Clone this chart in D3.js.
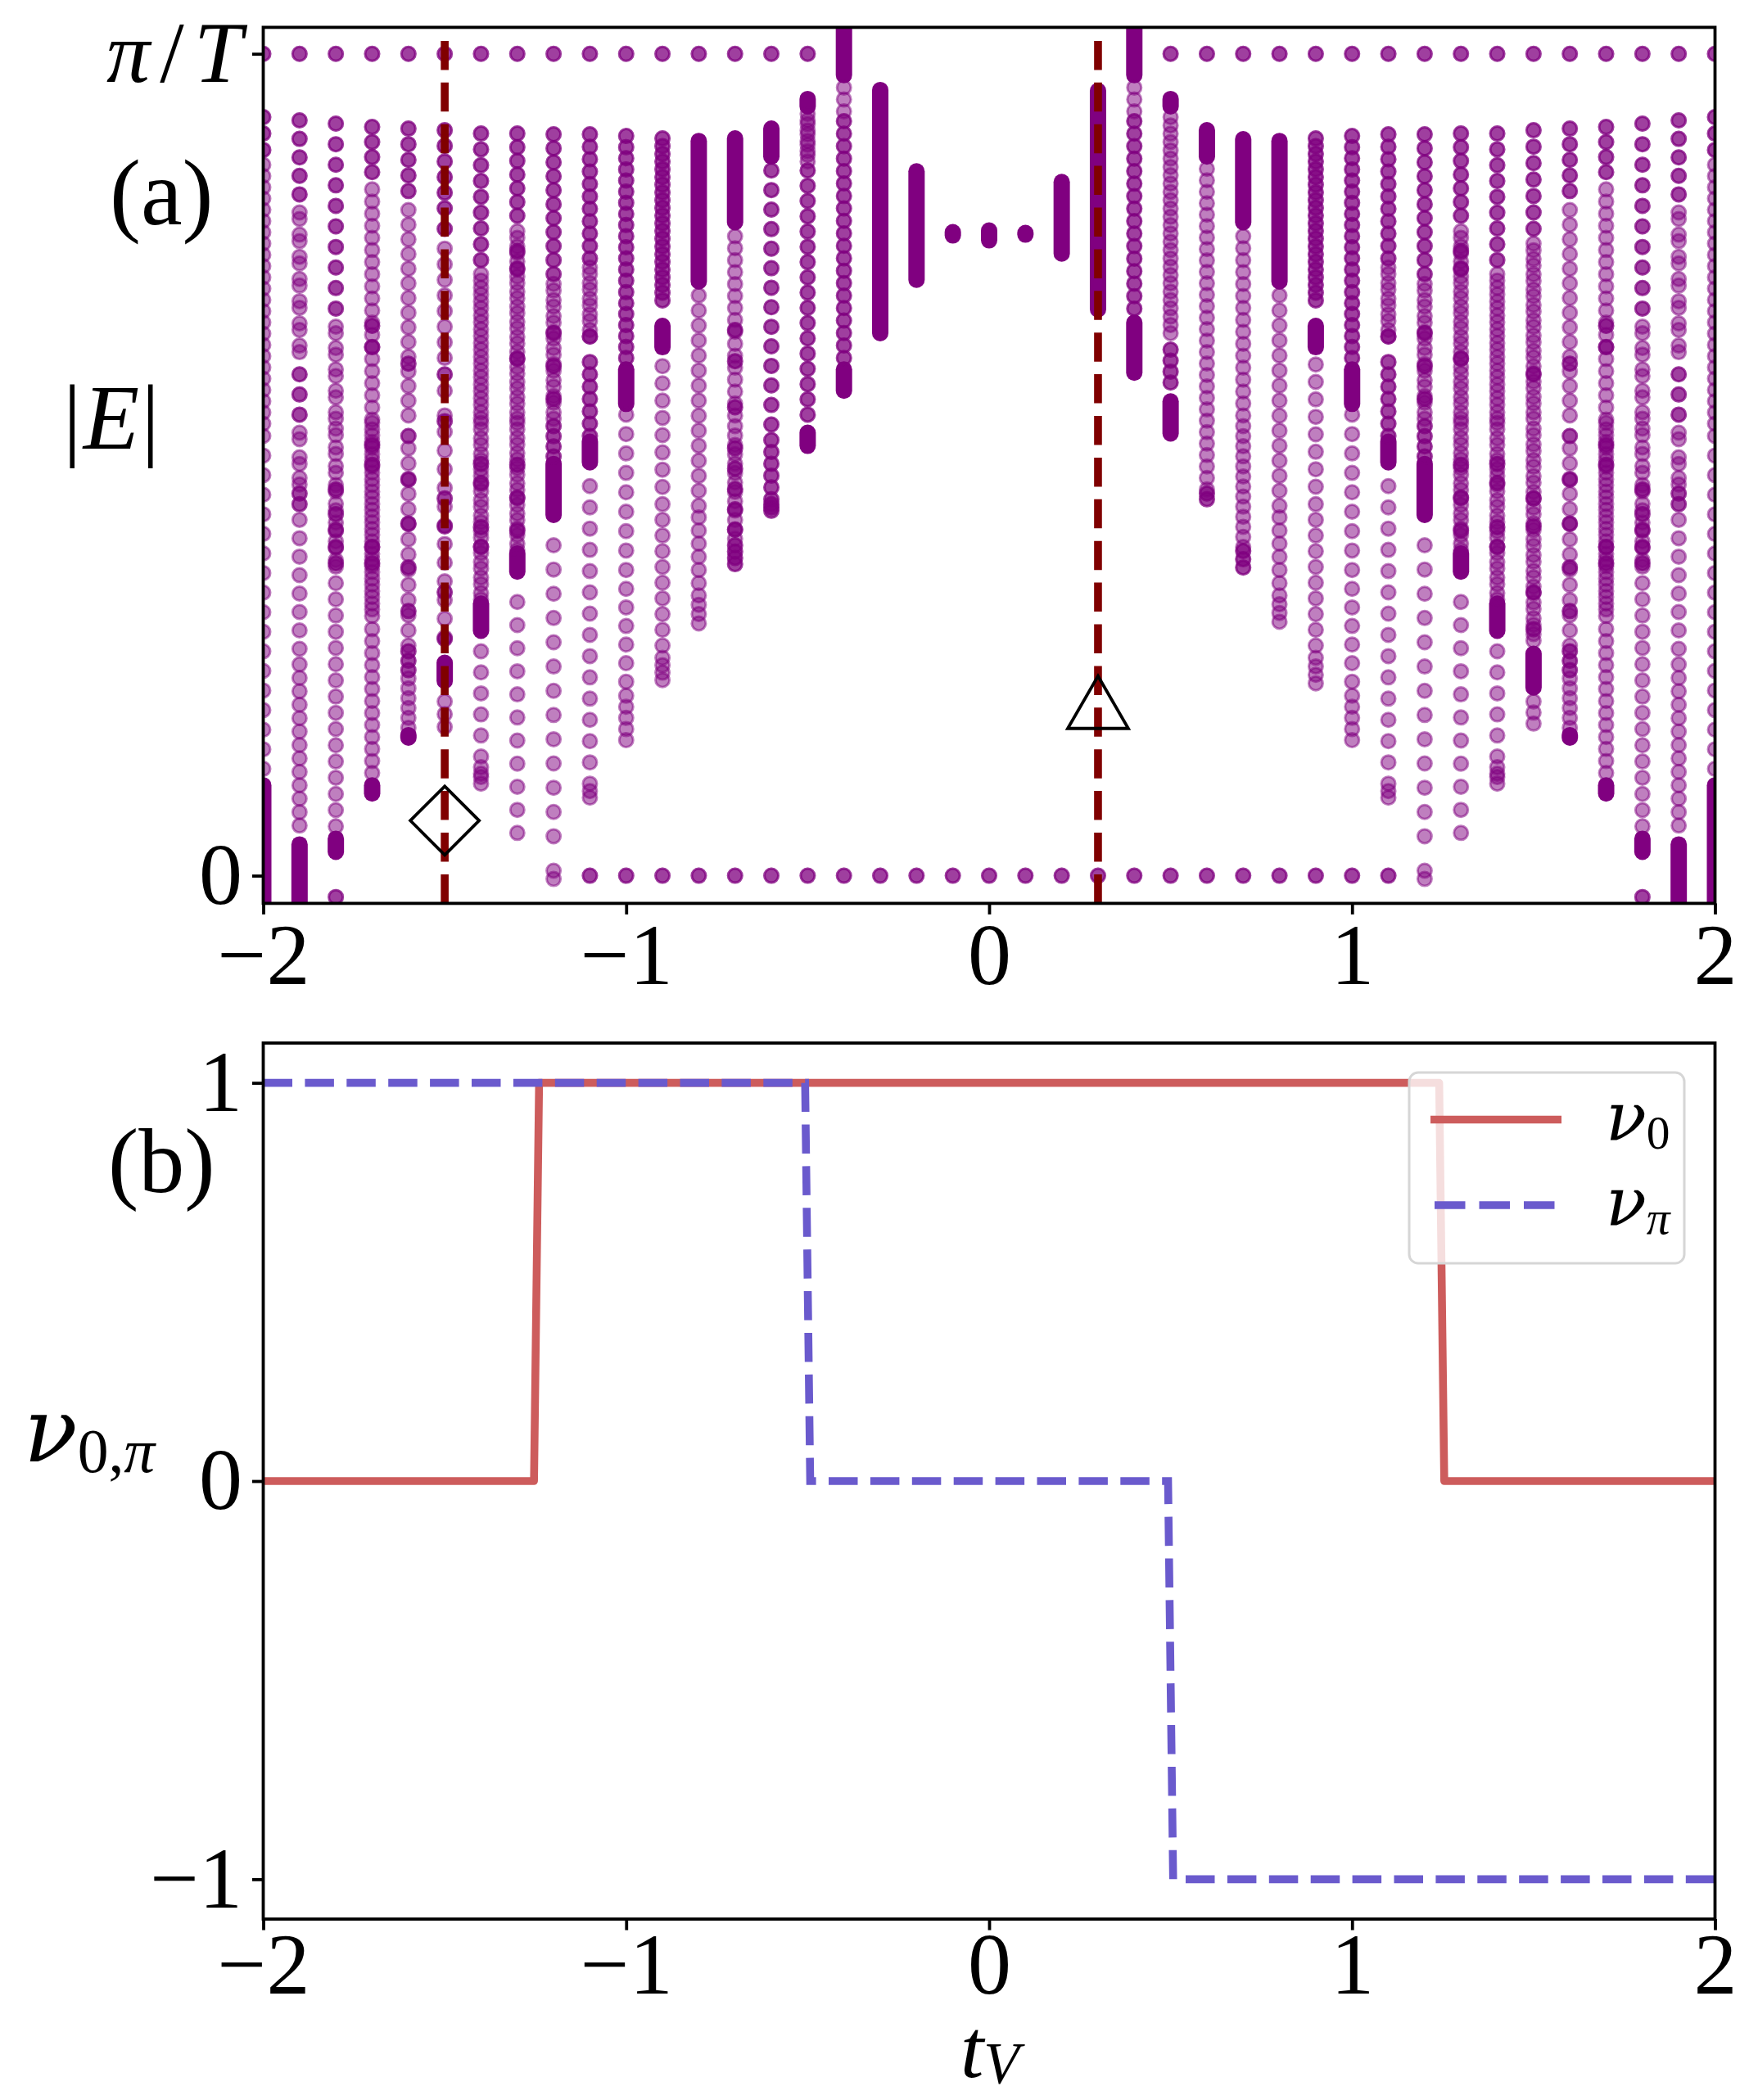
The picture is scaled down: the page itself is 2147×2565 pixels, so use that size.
<!DOCTYPE html>
<html>
<head>
<meta charset="utf-8">
<script src="https://cdn.jsdelivr.net/npm/d3@7"></script>
<style>
  body { margin: 0; background: #fff; }
  text { font-family: "Liberation Serif", "DejaVu Serif", serif; }
  .gr { font-family: "DejaVu Serif", serif; }
</style>
</head>
<body>
<script>
// ---- data ----
// hopping t_V of every spectrum column
var tV = [-2.0,-1.9,-1.8,-1.7,-1.6,-1.5,-1.4,-1.3,-1.2,-1.1,-1.0,-0.9,-0.8,-0.7,-0.6,-0.5,-0.4,-0.3,-0.2,-0.1,
           0.0, 0.1, 0.2, 0.3, 0.4, 0.5, 0.6, 0.7, 0.8, 0.9, 1.0, 1.1, 1.2, 1.3, 1.4, 1.5, 1.6, 1.7, 1.8, 1.9, 2.0];

// |E| in units of pi/T, one list of runs per column:
// [from, to, count, kind]  kind 0 = solid band, 1 = single level, 2 = double level, 3 = split pair
var spectrum = [
  [[0.923,0.883,3,2],[0.865,0.55,24,1],[0.535,0.13,18,1],[0.11,-0.07,0,0]],
  [[0.919,0.829,5,2],[0.803,0.641,7,3],[0.610,0.561,3,2],[0.535,0.505,2,3],[0.480,0.480,1,3],[0.465,0.452,2,2],[0.433,0.276,8,1],[0.257,0.061,13,1],[0.038,-0.07,0,0]],
  [[0.915,0.690,10,2],[0.664,0.56,5,3],[0.54,0.38,8,3],[0.47,0.44,2,2],[0.42,0.38,3,2],[0.356,0.06,16,1],[0.045,0.029,0,0],[-0.026,-0.026,1,2]],
  [[0.911,0.856,4,2],[0.835,0.555,20,1],[0.669,0.643,2,2],[0.547,0.32,16,3],[0.524,0.50,2,2],[0.40,0.38,2,2],[0.30,0.125,13,1],[0.110,0.100,0,0]],
  [[0.909,0.833,5,2],[0.81,0.56,15,1],[0.623,0.623,1,2],[0.535,0.322,5,2],[0.52,0.28,14,1],[0.273,0.250,3,2],[0.24,0.18,6,1],[0.171,0.168,0,0]],
  [[0.907,0.812,6,2],[0.787,0.787,1,2],[0.763,0.63,8,1],[0.610,0.610,1,2],[0.59,0.56,2,1],[0.553,0.553,1,2],[0.54,0.29,12,1],[0.459,0.425,2,2],[0.345,0.288,2,2],[0.259,0.237,0,0],[0.212,0.181,3,1]],
  [[0.903,0.749,9,2],[0.728,0.56,11,3],[0.547,0.34,12,3],[0.501,0.478,2,2],[0.424,0.40,2,2],[0.331,0.298,0,0],[0.273,0.145,6,1],[0.128,0.116,2,3]],
  [[0.903,0.803,7,2],[0.78,0.56,13,3],[0.76,0.738,2,2],[0.629,0.629,1,2],[0.547,0.40,9,3],[0.50,0.42,3,2],[0.392,0.370,0,0],[0.333,0.052,11,1]],
  [[0.902,0.732,11,2],[0.716,0.56,9,3],[0.66,0.58,3,2],[0.547,0.51,4,2],[0.501,0.439,0,0],[0.402,0.048,13,1]],
  [[0.902,0.751,11,2],[0.736,0.66,5,3],[0.656,0.656,1,2],[0.625,0.535,7,2],[0.528,0.503,0,0],[0.474,0.112,15,1],[0.099,0.099,1,3]],
  [[0.900,0.724,14,2],[0.71,0.63,7,2],[0.616,0.574,0,0],[0.561,0.372,9,1],[0.349,0.236,6,1],[0.219,0.165,5,1]],
  [[0.897,0.70,22,2],[0.669,0.643,0,0],[0.620,0.452,9,1],[0.433,0.280,9,1],[0.265,0.238,4,1]],
  [[0.894,0.723,0,0],[0.706,0.45,15,1],[0.436,0.356,6,1],[0.341,0.307,4,1]],
  [[0.897,0.795,0,0],[0.778,0.56,16,1],[0.664,0.626,2,2],[0.57,0.57,1,2],[0.547,0.41,13,1],[0.520,0.421,5,2],[0.402,0.379,4,2]],
  [[0.909,0.875,0,0],[0.858,0.549,14,2],[0.530,0.458,6,2],[0.452,0.444,3,2]],
  [[0.945,0.936,0,0],[0.923,0.873,5,3],[0.858,0.561,17,2],[0.539,0.523,0,0]],
  [[1.08,0.974,0,0],[0.959,0.930,3,1],[0.918,0.63,20,2],[0.616,0.590,0,0]],
  [[0.956,0.660,0,0]],
  [[0.857,0.725,0,0]],
  [[0.783,0.779,0,0]],
  [[0.785,0.773,0,0]],
  [[0.782,0.780,0,0]],
  [[0.844,0.757,0,0]],
  [[0.955,0.689,0,0]],
  [[1.08,0.974,0,0],[0.959,0.930,3,1],[0.918,0.69,16,2],[0.673,0.612,0,0]],
  [[0.945,0.936,0,0],[0.923,0.66,27,1],[0.64,0.60,4,2],[0.577,0.538,0,0]],
  [[0.907,0.875,0,0],[0.86,0.47,29,1],[0.465,0.458,2,2]],
  [[0.896,0.795,0,0],[0.778,0.56,16,1],[0.547,0.40,13,1],[0.395,0.375,3,2]],
  [[0.894,0.723,0,0],[0.706,0.45,15,1],[0.436,0.356,6,1],[0.341,0.309,4,1]],
  [[0.897,0.70,22,2],[0.669,0.643,0,0],[0.622,0.452,9,1],[0.433,0.280,9,1],[0.265,0.234,4,1]],
  [[0.900,0.724,14,2],[0.71,0.63,7,2],[0.616,0.574,0,0],[0.561,0.372,9,1],[0.349,0.236,6,1],[0.219,0.165,5,1]],
  [[0.902,0.751,11,2],[0.736,0.66,5,3],[0.656,0.656,1,2],[0.625,0.535,7,2],[0.528,0.503,0,0],[0.474,0.112,15,1],[0.099,0.099,1,3]],
  [[0.902,0.732,11,2],[0.716,0.56,9,3],[0.66,0.58,3,2],[0.547,0.51,4,2],[0.501,0.439,0,0],[0.402,0.048,13,1]],
  [[0.903,0.803,7,2],[0.78,0.56,13,3],[0.76,0.738,2,2],[0.629,0.629,1,2],[0.547,0.40,9,3],[0.50,0.42,3,2],[0.392,0.370,0,0],[0.333,0.052,11,1]],
  [[0.903,0.749,9,2],[0.728,0.56,11,3],[0.547,0.34,12,3],[0.501,0.478,2,2],[0.424,0.40,2,2],[0.331,0.298,0,0],[0.273,0.145,6,1],[0.128,0.116,2,3]],
  [[0.907,0.787,7,2],[0.765,0.56,12,3],[0.610,0.610,1,2],[0.54,0.29,14,3],[0.459,0.425,2,2],[0.345,0.30,2,2],[0.270,0.229,0,0],[0.212,0.185,3,1]],
  [[0.909,0.833,5,2],[0.81,0.56,15,1],[0.623,0.623,1,2],[0.535,0.322,5,2],[0.52,0.28,14,1],[0.273,0.250,3,2],[0.24,0.18,6,1],[0.171,0.168,0,0]],
  [[0.911,0.856,4,2],[0.835,0.555,20,1],[0.669,0.643,2,2],[0.547,0.32,16,3],[0.524,0.50,2,2],[0.40,0.38,2,2],[0.30,0.125,13,1],[0.110,0.100,0,0]],
  [[0.915,0.690,10,2],[0.664,0.56,5,3],[0.54,0.38,8,3],[0.47,0.44,2,2],[0.42,0.38,3,2],[0.356,0.06,16,1],[0.045,0.029,0,0],[-0.026,-0.026,1,2]],
  [[0.919,0.829,5,2],[0.803,0.641,7,3],[0.610,0.561,3,2],[0.535,0.505,2,3],[0.480,0.480,1,3],[0.465,0.452,2,2],[0.433,0.276,8,1],[0.257,0.061,13,1],[0.038,-0.07,0,0]],
  [[0.923,0.883,3,2],[0.865,0.55,24,1],[0.535,0.13,18,1],[0.11,-0.07,0,0]]
];

// edge modes: pi/T modes and zero modes (double levels)
var piModeT   = [-2.0,-1.9,-1.8,-1.7,-1.6,-1.5,-1.4,-1.3,-1.2,-1.1,-1.0,-0.9,-0.8,-0.7,-0.6,-0.5,
                  0.5, 0.6, 0.7, 0.8, 0.9, 1.0, 1.1, 1.2, 1.3, 1.4, 1.5, 1.6, 1.7, 1.8, 1.9, 2.0];
var zeroModeT = [-1.1,-1.0,-0.9,-0.8,-0.7,-0.6,-0.5,-0.4,-0.3,-0.2,-0.1,0.0,0.1,0.2,0.3,0.4,0.5,0.6,0.7,0.8,0.9,1.0,1.1];
var zeroSplitT = [-1.2, 1.2];
var zeroSplitE = [0.006, -0.004];

var markedT = [-1.5, 0.3];
var diamondPt = [-1.5, 0.067];
var trianglePt = [0.3, 0.211];

// winding numbers, panel (b)
var nu0  = [[-2,0],[-1.254,0],[-1.240,1],[1.240,1],[1.254,0],[2,0]];
var nuPi = [[-2,1],[-0.507,1],[-0.493,0],[0.493,0],[0.507,-1],[2,-1]];

var xTicks = [-2,-1,0,1,2];
var eTicks = [0,1];
var nuTicks = [-1,0,1];

// ---- layout ----
var W = 2147, H = 2565;
var left = 321.5, right = 2094.5;
var topA = 33.4, botA = 1103.4;
var topB = 1274, botB = 2344;
var tickLen = 13.5, lw = 3.8, fs = 106;
var purple = "#800080";

var svg = d3.select("body").append("svg")
  .attr("width", W).attr("height", H)
  .style("background", "#fff");

var x = d3.scaleLinear().domain([-2, 2]).range([left, right]);
var yE = d3.scaleLinear().domain([-0.0337, 1.0322]).range([botA, topA]);
var yN = d3.scaleLinear().domain([-1.1, 1.1]).range([botB, topB]);

svg.append("clipPath").attr("id", "clipA")
  .append("rect").attr("x", left).attr("y", topA).attr("width", right - left).attr("height", botA - topA);
svg.append("clipPath").attr("id", "clipB")
  .append("rect").attr("x", left).attr("y", topB).attr("width", right - left).attr("height", botB - topB);

// ---- panel (a) ----
var points = [], bands = [];
spectrum.forEach(function(runs, i) {
  runs.forEach(function(r) {
    if (r[3] === 0) { bands.push({t: tV[i], a: r[0], b: r[1]}); return; }
    for (var j = 0; j < r[2]; j++) {
      var v = r[2] === 1 ? r[0] : r[0] + (r[1] - r[0]) * j / (r[2] - 1);
      if (r[3] === 1) points.push({t: tV[i], e: v});
      else if (r[3] === 2) { points.push({t: tV[i], e: v}); points.push({t: tV[i], e: v}); }
      else { points.push({t: tV[i], e: v + 0.004}); points.push({t: tV[i], e: v - 0.004}); }
    }
  });
});
piModeT.forEach(function(t) { points.push({t: t, e: 1}); points.push({t: t, e: 1}); });
zeroModeT.forEach(function(t) { points.push({t: t, e: 0}); points.push({t: t, e: 0}); });
zeroSplitT.forEach(function(t) { zeroSplitE.forEach(function(e) { points.push({t: t, e: e}); }); });

var gA = svg.append("g").attr("clip-path", "url(#clipA)");

gA.selectAll("line.band").data(bands).join("line")
  .attr("class", "band")
  .attr("x1", function(d) { return x(d.t); }).attr("x2", function(d) { return x(d.t); })
  .attr("y1", function(d) { return yE(d.a); }).attr("y2", function(d) { return yE(d.b); })
  .attr("stroke", purple).attr("stroke-width", 20).attr("stroke-linecap", "round");

gA.selectAll("circle").data(points).join("circle")
  .attr("cx", function(d) { return x(d.t); })
  .attr("cy", function(d) { return yE(d.e); })
  .attr("r", 8.5)
  .attr("fill", purple).attr("fill-opacity", 0.5)
  .attr("stroke", purple).attr("stroke-opacity", 0.5).attr("stroke-width", 3);

gA.selectAll("line.mark").data(markedT).join("line")
  .attr("class", "mark")
  .attr("x1", function(d) { return x(d); }).attr("x2", function(d) { return x(d); })
  .attr("y1", botA).attr("y2", topA)
  .attr("stroke", "#800000").attr("stroke-width", 9.6)
  .attr("stroke-dasharray", "35.5,15.4");

svg.append("path")
  .attr("transform", "translate(" + x(diamondPt[0]) + "," + yE(diamondPt[1]) + ")")
  .attr("d", "M0,-42L42,0L0,42L-42,0Z")
  .attr("fill", "none").attr("stroke", "#000").attr("stroke-width", 3.8);

svg.append("path")
  .attr("transform", "translate(" + x(trianglePt[0]) + "," + yE(trianglePt[1]) + ")")
  .attr("d", "M0,-32L37,32L-37,32Z")
  .attr("fill", "none").attr("stroke", "#000").attr("stroke-width", 3.8).attr("stroke-linejoin", "miter");

// ---- panel (b) ----
var gB = svg.append("g").attr("clip-path", "url(#clipB)");
var line = d3.line().x(function(d) { return x(d[0]); }).y(function(d) { return yN(d[1]); });

gB.append("path").datum(nu0).attr("d", line)
  .attr("fill", "none").attr("stroke", "#cd5c5c").attr("stroke-width", 9.6)
  .attr("stroke-linejoin", "round").attr("stroke-linecap", "square");
gB.append("path").datum(nuPi).attr("d", line)
  .attr("fill", "none").attr("stroke", "#6a5acd").attr("stroke-width", 9.6)
  .attr("stroke-dasharray", "35.5,15.4");

// legend
var lg = svg.append("g");
lg.append("rect").attr("x", 1721).attr("y", 1310).attr("width", 336).attr("height", 233).attr("rx", 11)
  .attr("fill", "#fff").attr("fill-opacity", 0.8).attr("stroke", "#d6d6d6").attr("stroke-width", 3);
lg.append("line").attr("x1", 1747).attr("x2", 1907).attr("y1", 1367.5).attr("y2", 1367.5)
  .attr("stroke", "#cd5c5c").attr("stroke-width", 9.6);
lg.append("line").attr("x1", 1752).attr("x2", 1907).attr("y1", 1472).attr("y2", 1472)
  .attr("stroke", "#6a5acd").attr("stroke-width", 9.6).attr("stroke-dasharray", "37.5,17");

function nuLabel(sel, sub, subItalic) {
  sel.append("tspan").attr("class", "gr").attr("font-style", "italic").text("ν");
  sel.append("tspan").attr("font-size", "0.7em").attr("dy", "0.17em")
    .attr("font-style", subItalic ? "italic" : "normal").text(sub);
}
nuLabel(lg.append("text").attr("x", 1961).attr("y", 1393).attr("font-size", 82), "0", false);
nuLabel(lg.append("text").attr("x", 1961).attr("y", 1497).attr("font-size", 82), "π", true);

// ---- axes ----
function styleAxis(g) {
  g.select(".domain").remove();
  g.selectAll(".tick line").attr("stroke", "#000").attr("stroke-width", lw);
  g.selectAll(".tick text").attr("font-size", fs).attr("fill", "#000")
    .style("font-family", '"Liberation Serif", serif');
}

[[botA, 10], [botB, 2]].forEach(function(p) {
  svg.append("g").attr("transform", "translate(0," + p[0] + ")")
    .call(d3.axisBottom(x).tickValues(xTicks).tickSize(tickLen).tickPadding(p[1]).tickFormat(d3.format("d")))
    .call(styleAxis);
});

var axE = svg.append("g").attr("transform", "translate(" + left + ",0)")
  .call(d3.axisLeft(yE).tickValues(eTicks).tickSize(tickLen).tickPadding(12).tickFormat(d3.format("d")))
  .call(styleAxis);
axE.selectAll(".tick text").filter(function(d) { return d === 1; }).each(function() {
  var t = d3.select(this).text("").attr("textLength", 166).attr("lengthAdjust", "spacing");
  t.append("tspan").attr("font-style", "italic").text("π");
  t.append("tspan").text("/");
  t.append("tspan").attr("font-style", "italic").text("T");
});

svg.append("g").attr("transform", "translate(" + left + ",0)")
  .call(d3.axisLeft(yN).tickValues(nuTicks).tickSize(tickLen).tickPadding(12).tickFormat(d3.format("d")))
  .call(styleAxis);

// frames
[[topA, botA], [topB, botB]].forEach(function(p) {
  svg.append("rect").attr("x", left).attr("y", p[0]).attr("width", right - left).attr("height", p[1] - p[0])
    .attr("fill", "none").attr("stroke", "#000").attr("stroke-width", lw);
});

// ---- labels ----
svg.append("text").attr("x", 134).attr("y", 274).attr("font-size", 114).text("(a)");
svg.append("text").attr("x", 132).attr("y", 1456).attr("font-size", 112).text("(b)");

var eLab = svg.append("text").attr("x", 77).attr("y", 548).attr("font-size", 112)
  .attr("textLength", 118).attr("lengthAdjust", "spacing");
eLab.append("tspan").text("|");
eLab.append("tspan").attr("font-style", "italic").text("E");
eLab.append("tspan").text("|");

var nLab = svg.append("text").attr("x", 29).attr("y", 1785).attr("font-size", 108);
nLab.append("tspan").attr("class", "gr").attr("font-style", "italic").text("ν");
nLab.append("tspan").attr("font-size", "0.7em").attr("dy", "0.17em").text("0,");
nLab.append("tspan").attr("font-size", "0.7em").attr("font-style", "italic").text("π");

var tLab = svg.append("text").attr("x", 1173).attr("y", 2537).attr("font-size", 102);
tLab.append("tspan").attr("font-style", "italic").text("t");
tLab.append("tspan").attr("font-size", "0.7em").attr("dy", "0.1em").attr("font-style", "italic").text("V");
</script>
</body>
</html>
